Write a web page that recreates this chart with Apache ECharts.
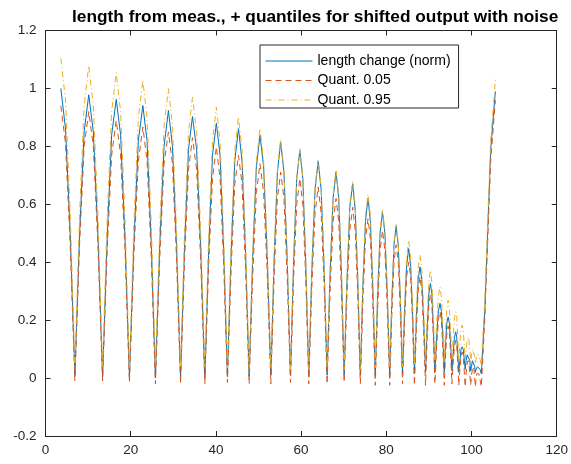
<!DOCTYPE html>
<html>
<head>
<meta charset="utf-8">
<script src="https://cdn.jsdelivr.net/npm/echarts@6/dist/echarts.min.js"></script>
<style>html,body{margin:0;padding:0;background:#fff;}#c{width:571px;height:464px;}</style>
</head>
<body>
<div id="c"></div>
<script>
const titleText = 'length from meas., + quantiles for shifted output with noise';
const seriesNames = ['length change (norm)', 'Quant. 0.05', 'Quant. 0.95'];
const xTicks = [0, 20, 40, 60, 80, 100, 120];
const yTicks = [-0.2, 0, 0.2, 0.4, 0.6, 0.8, 1, 1.2];

const xPts = [
  3.6, 4.7, 5.8, 6.9,
  7.98, 9.07, 10.15, 11.23, 12.32, 13.4,
  14.47, 15.53, 16.6, 17.63, 18.67, 19.7,
  20.75, 21.8, 22.85, 23.83, 24.82, 25.8,
  26.82, 27.83, 28.85, 29.8, 30.75, 31.7,
  32.63, 33.57, 34.5, 35.47, 36.43, 37.4,
  38.3, 39.2, 40.1, 40.97, 41.83, 42.7,
  43.57, 44.43, 45.3, 46.13, 46.97, 47.8,
  48.65, 49.5, 50.35, 51.2, 52.05, 52.9,
  53.67, 54.43, 55.2, 55.97, 56.73, 57.5,
  58.23, 58.97, 59.7, 60.4, 61.1, 61.8,
  62.53, 63.27, 64.0, 64.7, 65.4, 66.1,
  66.8, 67.5, 68.2, 68.83, 69.47, 70.1,
  70.77, 71.43, 72.1, 72.7, 73.3, 73.9,
  74.5, 75.1, 75.7, 76.27, 76.83, 77.4,
  77.97, 78.53, 79.1, 79.67, 80.23, 80.8,
  81.3, 81.8, 82.3, 82.8, 83.3, 83.8,
  84.28, 84.77, 85.25, 85.7, 86.15, 86.6,
  87.03, 87.47, 87.9, 88.33, 88.77, 89.2,
  89.58, 89.97, 90.35, 90.7, 91.05, 91.4,
  91.8, 92.2, 92.6, 92.93, 93.27, 93.6,
  93.9, 94.2, 94.5, 94.8, 95.1, 95.4,
  95.7, 96.0, 96.3, 96.53, 96.77, 97.0,
  97.27, 97.53, 97.8, 98.03, 98.27, 98.5,
  98.73, 98.97, 99.2, 99.4, 99.6, 99.8,
  100.0, 100.2, 100.4, 100.57, 100.73, 100.9,
  101.07, 101.23, 101.4, 101.7, 102.0, 102.3,
  103.1, 104.5, 105.6
];

const lengthChange = [
  1.0, 0.86, 0.5, 0.01,
  0.49, 0.85, 0.978, 0.85, 0.49, 0.005,
  0.48, 0.84, 0.962, 0.84, 0.48, 0.005,
  0.47, 0.82, 0.941, 0.82, 0.47, 0.0,
  0.46, 0.80, 0.924, 0.80, 0.46, 0.005,
  0.45, 0.79, 0.903, 0.79, 0.45, 0.0,
  0.44, 0.77, 0.880, 0.77, 0.44, 0.005,
  0.43, 0.75, 0.861, 0.75, 0.43, 0.005,
  0.42, 0.73, 0.838, 0.73, 0.42, 0.01,
  0.41, 0.71, 0.815, 0.71, 0.41, 0.01,
  0.40, 0.69, 0.786, 0.69, 0.39, 0.005,
  0.38, 0.65, 0.750, 0.65, 0.38, 0.01,
  0.36, 0.62, 0.711, 0.62, 0.36, 0.01,
  0.34, 0.59, 0.671, 0.58, 0.34, 0.01,
  0.32, 0.54, 0.622, 0.54, 0.31, 0.01,
  0.29, 0.50, 0.572, 0.50, 0.29, 0.01,
  0.27, 0.46, 0.524, 0.46, 0.27, 0.015,
  0.23, 0.39, 0.447, 0.39, 0.23, 0.015,
  0.20, 0.34, 0.384, 0.34, 0.20, 0.02,
  0.17, 0.29, 0.327, 0.29, 0.17, 0.02,
  0.14, 0.23, 0.258, 0.23, 0.14, 0.02,
  0.12, 0.19, 0.211, 0.19, 0.12, 0.025,
  0.09, 0.14, 0.160, 0.14, 0.09, 0.02,
  0.06, 0.10, 0.108, 0.10, 0.07, 0.03,
  0.06, 0.08, 0.086, 0.08, 0.06, 0.025,
  0.04, 0.06, 0.062, 0.06, 0.04, 0.02,
  0.03, 0.035, 0.039, 0.035, 0.03, 0.015,
  0.23, 0.79, 0.99
];

const quant05 = [
  0.94, 0.81, 0.46, -0.01,
  0.455, 0.80, 0.92, 0.80, 0.455, -0.01,
  0.44, 0.77, 0.89, 0.77, 0.44, -0.015,
  0.43, 0.75, 0.867, 0.75, 0.42, -0.02,
  0.415, 0.74, 0.85, 0.74, 0.415, -0.02,
  0.405, 0.72, 0.83, 0.72, 0.405, -0.02,
  0.39, 0.69, 0.798, 0.69, 0.39, -0.015,
  0.375, 0.67, 0.769, 0.67, 0.375, -0.02,
  0.36, 0.64, 0.74, 0.64, 0.36, -0.02,
  0.35, 0.62, 0.711, 0.62, 0.35, -0.015,
  0.34, 0.60, 0.689, 0.60, 0.335, -0.02,
  0.32, 0.57, 0.66, 0.57, 0.32, -0.02,
  0.30, 0.54, 0.62, 0.54, 0.30, -0.015,
  0.29, 0.51, 0.59, 0.51, 0.285, -0.02,
  0.265, 0.48, 0.55, 0.48, 0.26, -0.025,
  0.24, 0.44, 0.51, 0.44, 0.24, -0.025,
  0.22, 0.40, 0.46, 0.40, 0.22, -0.02,
  0.19, 0.35, 0.40, 0.35, 0.19, -0.025,
  0.16, 0.30, 0.35, 0.30, 0.16, -0.025,
  0.135, 0.25, 0.29, 0.25, 0.135, -0.02,
  0.105, 0.20, 0.23, 0.20, 0.10, -0.025,
  0.08, 0.15, 0.18, 0.155, 0.08, -0.02,
  0.055, 0.11, 0.13, 0.11, 0.05, -0.025,
  0.03, 0.075, 0.09, 0.075, 0.03, -0.03,
  0.015, 0.05, 0.06, 0.05, 0.015, -0.025,
  0.01, 0.03, 0.04, 0.03, 0.005, -0.03,
  -0.005, 0.015, 0.02, 0.015, -0.005, -0.03,
  0.20, 0.75, 0.96
];

const quant95 = [
  1.104, 0.96, 0.57, 0.04,
  0.56, 0.94, 1.079, 0.94, 0.56, 0.04,
  0.55, 0.92, 1.054, 0.92, 0.545, 0.035,
  0.53, 0.90, 1.028, 0.90, 0.535, 0.04,
  0.52, 0.87, 0.999, 0.87, 0.515, 0.035,
  0.50, 0.85, 0.970, 0.85, 0.505, 0.04,
  0.49, 0.82, 0.936, 0.82, 0.485, 0.035,
  0.47, 0.79, 0.901, 0.79, 0.465, 0.03,
  0.445, 0.75, 0.861, 0.75, 0.45, 0.035,
  0.43, 0.72, 0.826, 0.72, 0.43, 0.03,
  0.41, 0.69, 0.792, 0.69, 0.41, 0.03,
  0.39, 0.66, 0.755, 0.66, 0.395, 0.035,
  0.38, 0.63, 0.72, 0.63, 0.375, 0.03,
  0.355, 0.60, 0.68, 0.60, 0.355, 0.03,
  0.33, 0.56, 0.635, 0.56, 0.335, 0.035,
  0.31, 0.51, 0.58, 0.51, 0.31, 0.04,
  0.285, 0.47, 0.53, 0.47, 0.285, 0.04,
  0.26, 0.42, 0.475, 0.42, 0.26, 0.045,
  0.235, 0.38, 0.424, 0.38, 0.235, 0.05,
  0.21, 0.33, 0.372, 0.33, 0.21, 0.05,
  0.185, 0.28, 0.315, 0.28, 0.185, 0.055,
  0.165, 0.24, 0.269, 0.24, 0.165, 0.06,
  0.145, 0.21, 0.229, 0.21, 0.145, 0.06,
  0.12, 0.17, 0.183, 0.17, 0.12, 0.06,
  0.10, 0.13, 0.142, 0.13, 0.10, 0.055,
  0.08, 0.10, 0.103, 0.10, 0.075, 0.05,
  0.065, 0.08, 0.086, 0.08, 0.065, 0.04,
  0.27, 0.82, 1.03
];

const colors = ['#0072BD', '#D95319', '#EDB120'];
const axisColor = '#262626';
const FONT = '"Liberation Sans", Arial, Helvetica, sans-serif';

function pairs(ys) { return xPts.map((x, i) => [x, ys[i]]); }

const chart = echarts.init(document.getElementById('c'), null, { renderer: 'canvas' });

function xAx(pos, showLabel) {
  return {
    type: 'value', position: pos, min: xTicks[0], max: xTicks[xTicks.length - 1], interval: 20,
    axisLine: { show: true, onZero: false, lineStyle: { color: axisColor, width: 1 } },
    axisTick: { show: true, inside: true, length: 5, lineStyle: { color: axisColor } },
    axisLabel: { show: showLabel, color: axisColor, fontSize: 13.5, fontFamily: FONT, margin: 7 },
    splitLine: { show: false }
  };
}
function yAx(pos, showLabel) {
  return {
    type: 'value', position: pos, min: yTicks[0], max: yTicks[yTicks.length - 1], interval: 0.2,
    axisLine: { show: true, onZero: false, lineStyle: { color: axisColor, width: 1 } },
    axisTick: { show: true, inside: true, length: 5, lineStyle: { color: axisColor } },
    axisLabel: { show: showLabel, color: axisColor, fontSize: 13.5, fontFamily: FONT, margin: 9,
      formatter: v => String(Math.round(v * 10) / 10) },
    splitLine: { show: false }
  };
}

const series = [
  { name: seriesNames[0], data: pairs(lengthChange), color: colors[0], lineStyle: { width: 1, type: 'solid' } },
  { name: seriesNames[1], data: pairs(quant05), color: colors[1], lineStyle: { width: 1, type: [6, 4] } },
  { name: seriesNames[2], data: pairs(quant95), color: colors[2], lineStyle: { width: 1, type: [6, 3, 1, 3] } }
].map(s => Object.assign({ type: 'line', showSymbol: false, symbol: 'none', smooth: false, animation: false, xAxisIndex: 0, yAxisIndex: 0 }, s));

chart.setOption({
  animation: false,
  backgroundColor: '#ffffff',
  title: {
    text: titleText, left: 72, top: 9, padding: 0,
    textStyle: { fontSize: 17.3, fontWeight: 'bold', color: '#000', fontFamily: FONT }
  },
  legend: {
    orient: 'vertical', left: 260, top: 45,
    data: seriesNames,
    itemWidth: 47, itemHeight: 14, itemGap: 5.5,
    padding: [9, 8, 1, 5],
    borderColor: axisColor, borderWidth: 1, backgroundColor: '#fff',
    itemStyle: { opacity: 0, borderWidth: 0 },
    lineStyle: { width: 1 },
    textStyle: { fontSize: 14, color: '#000', fontFamily: FONT }
  },
  grid: { left: 45.5, right: 10, top: 30.5, bottom: 28, containLabel: false },
  xAxis: [xAx('bottom', true), xAx('top', false)],
  yAxis: [yAx('left', true), yAx('right', false)],
  series: series
});
</script>
</body>
</html>
